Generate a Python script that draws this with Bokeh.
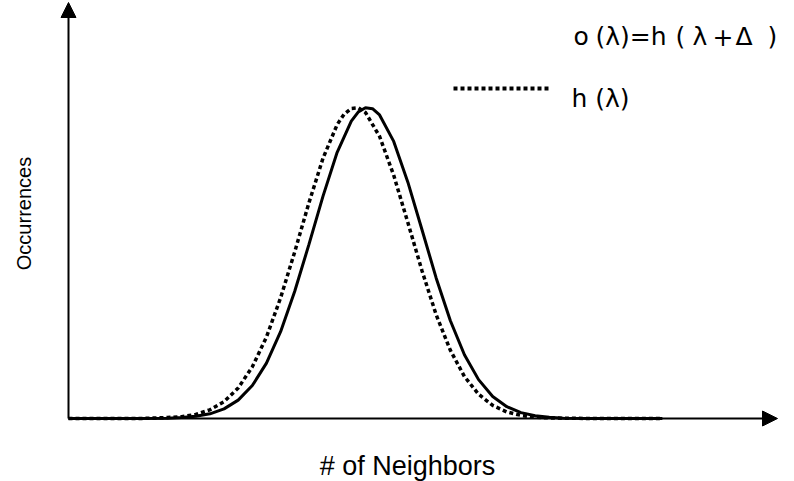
from bokeh.plotting import figure
from bokeh.models import Range1d, Label, Arrow, NormalHead
from bokeh.embed import file_html
from bokeh.resources import INLINE
import math

# Distribution of neighbor counts: original h(lambda) and shifted o(lambda)
neighbors_solid = [0, 10, 14, 16, 18, 20, 22, 24, 26, 28, 30, 32, 34, 36, 38, 40, 41, 42, 43, 44,
                   46, 48, 50, 52, 54, 56, 58, 60, 62, 64, 66, 68, 70, 74, 84]
occ_solid = [0, 0, 0.1, 0.3, 0.7, 1.5, 3.1, 5.9, 10.6, 17.8, 27.9, 40.9, 55.9, 71.5, 85.6, 95.6, 98.6, 99.9, 99.6, 97.6,
             89.1, 76.0, 60.7, 45.2, 31.5, 20.5, 12.5, 7.1, 3.8, 1.9, 0.9, 0.4, 0.1, 0, 0]

neighbors_dotted = [0, 10, 14, 16, 18, 20, 22, 24, 26, 28, 30, 32, 34, 36, 38, 39, 40, 41, 42, 44,
                    46, 48, 50, 52, 54, 56, 58, 60, 62, 64, 66, 68, 70, 74, 84]
occ_dotted = [0, 0, 0.3, 0.6, 1.3, 2.8, 5.4, 9.8, 16.6, 26.2, 38.8, 53.6, 69.3, 83.7, 94.5, 97.9, 99.7, 99.9, 98.4, 90.7,
              78.2, 63.0, 47.5, 33.4, 22.0, 13.5, 7.8, 4.2, 2.1, 1.0, 0.4, 0.2, 0.1, 0, 0]

# legend text for the shifted curve, set in spaced pieces
legend_shifted_parts = ["o", "(λ)=h", "(", "λ", "+", "Δ", ")"]
legend_shifted_px = [573, 595, 675, 692, 712, 735, 767]
legend_original = "h (λ)"
x_title = "# of Neighbors"
y_title = "Occurrences"

W, H = 794, 481
# frame mapping: origin of the chart sits at canvas pixel (68, 418)
OX, OY = 68, 418
SX, SY = 7.07, 3.11


def dx(px):
    return (px - OX) / SX


def dy(py):
    return (OY - py) / SY


p = figure(width=W, height=H, output_backend="svg", toolbar_location=None,
           x_axis_type=None, y_axis_type=None, min_border=0,
           x_range=Range1d(dx(0), dx(W)), y_range=Range1d(dy(H), dy(0)))
p.outline_line_color = None
p.grid.visible = False
p.background_fill_color = "white"
p.border_fill_color = "white"

# axes drawn as arrows
p.add_layout(Arrow(end=NormalHead(size=15, fill_color="black", line_color="black"),
                   x_start=0, y_start=0, x_end=0, y_end=dy(2),
                   line_width=2, line_color="black"))
p.add_layout(Arrow(end=NormalHead(size=15, fill_color="black", line_color="black"),
                   x_start=0, y_start=0, x_end=dx(777), y_end=0,
                   line_width=2, line_color="black"))

# curves
p.line(neighbors_dotted, occ_dotted, line_color="black", line_width=3.5, line_dash="4 3")
p.line(neighbors_solid, occ_solid, line_color="black", line_width=3)

# legend
for part, px in zip(legend_shifted_parts, legend_shifted_px):
    p.add_layout(Label(x=dx(px), y=dy(36), text=part, text_font="DejaVu Sans",
                       text_font_size="25px", text_color="black", text_baseline="alphabetic"))
p.add_layout(Arrow(end=None, x_start=dx(453), y_start=dy(88), x_end=dx(551), y_end=dy(88),
                   line_width=4, line_dash="4 3", line_color="black"))
p.add_layout(Label(x=dx(571), y=dy(98), text=legend_original, text_font="DejaVu Sans",
                   text_font_size="25px", text_color="black", text_baseline="alphabetic"))

# axis titles
p.add_layout(Label(x=dx(407), y=dy(465), text=x_title, text_font="Liberation Sans",
                   text_font_size="27px", text_color="black", text_align="center",
                   text_baseline="alphabetic"))
p.add_layout(Label(x=dx(23), y=dy(213), text=y_title, text_font="Liberation Sans",
                   text_font_size="20px", text_color="black", text_align="center",
                   text_baseline="middle", angle=math.pi / 2))

open("out.html", "w").write(file_html(p, INLINE))
